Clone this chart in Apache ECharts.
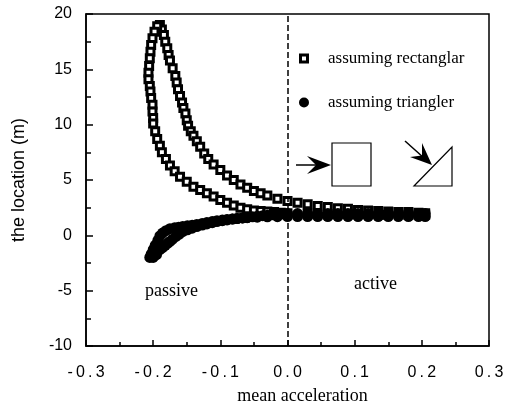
<!DOCTYPE html>
<html>
<head>
<meta charset="utf-8">
<script src="https://cdn.jsdelivr.net/npm/echarts@6/dist/echarts.min.js"></script>
<style>
  html, body { margin: 0; padding: 0; background: #fff; }
</style>
</head>
<body>
<div id="main" style="width: 505px; height: 405px;"></div>
<script>
// rectangular assumption: branch from the peak down the right side
const rectUpper = [
  [-0.190, 19.0], [-0.187, 18.6], [-0.184, 18.1], [-0.182, 17.5], [-0.179, 16.9], [-0.177, 16.3],
  [-0.175, 15.8], [-0.171, 15.1], [-0.167, 14.4], [-0.165, 13.8], [-0.163, 13.2], [-0.160, 12.6],
  [-0.157, 12.0], [-0.155, 11.5], [-0.152, 11.0], [-0.150, 10.4], [-0.148, 9.9], [-0.144, 9.4],
  [-0.140, 9.0], [-0.135, 8.5], [-0.130, 8.0], [-0.124, 7.4], [-0.118, 6.9], [-0.110, 6.4],
  [-0.100, 5.9], [-0.090, 5.4], [-0.080, 5.0], [-0.070, 4.6], [-0.060, 4.3], [-0.050, 4.0],
  [-0.040, 3.8], [-0.030, 3.6], [-0.015, 3.3], [0.000, 3.1], [0.015, 2.95], [0.030, 2.8],
  [0.045, 2.65], [0.060, 2.55], [0.075, 2.45], [0.090, 2.4], [0.105, 2.3], [0.120, 2.25],
  [0.135, 2.2], [0.150, 2.15], [0.165, 2.1], [0.180, 2.1], [0.195, 2.05], [0.205, 2.0]
];
// rectangular assumption: branch from the peak down the left side
const rectLower = [
  [-0.194, 18.9], [-0.198, 18.4], [-0.201, 17.8], [-0.203, 17.2], [-0.204, 16.6], [-0.205, 16.0],
  [-0.206, 15.3], [-0.207, 14.7], [-0.207, 14.1], [-0.205, 13.5], [-0.204, 13.0], [-0.203, 12.4],
  [-0.201, 11.8], [-0.201, 11.2], [-0.200, 10.6], [-0.200, 10.1], [-0.197, 9.4], [-0.194, 8.7],
  [-0.190, 8.1], [-0.187, 7.5], [-0.181, 6.9], [-0.175, 6.3], [-0.168, 5.8], [-0.160, 5.3],
  [-0.150, 4.85], [-0.140, 4.4], [-0.130, 4.1], [-0.120, 3.8], [-0.110, 3.5], [-0.100, 3.2],
  [-0.090, 2.95], [-0.080, 2.7], [-0.070, 2.5], [-0.060, 2.35], [-0.050, 2.25], [-0.040, 2.2],
  [-0.030, 2.15], [-0.020, 2.1], [-0.010, 2.05], [0.000, 2.0], [0.030, 1.95], [0.060, 1.9],
  [0.100, 1.9], [0.140, 1.85], [0.180, 1.85], [0.205, 1.85]
];
// triangular assumption: upper edge of the loop
const triUpper = [
  [-0.203, -1.7], [-0.200, -1.3], [-0.197, -0.9], [-0.193, -0.45], [-0.190, -0.05], [-0.186, 0.2],
  [-0.181, 0.42], [-0.175, 0.6], [-0.168, 0.68], [-0.162, 0.74], [-0.156, 0.8], [-0.149, 0.86],
  [-0.142, 0.92], [-0.135, 0.98], [-0.127, 1.07], [-0.120, 1.15], [-0.112, 1.24], [-0.105, 1.32],
  [-0.097, 1.38], [-0.090, 1.43], [-0.082, 1.48], [-0.075, 1.52], [-0.067, 1.57], [-0.060, 1.61],
  [-0.052, 1.67], [-0.045, 1.72], [-0.037, 1.78], [-0.030, 1.82], [-0.022, 1.87], [-0.015, 1.9],
  [-0.007, 1.94], [0.000, 1.97], [0.015, 1.97], [0.030, 1.97], [0.045, 1.97], [0.060, 1.97],
  [0.075, 1.97], [0.090, 1.97], [0.105, 1.97], [0.120, 1.97], [0.135, 1.97], [0.150, 1.97],
  [0.165, 1.97], [0.180, 1.97], [0.195, 1.97], [0.205, 1.97]
];
// triangular assumption: lower edge of the loop
const triLower = [
  [-0.205, -2.0], [-0.200, -2.0], [-0.195, -1.75], [-0.190, -1.3], [-0.186, -1.1], [-0.182, -0.9],
  [-0.178, -0.7], [-0.175, -0.55], [-0.171, -0.35], [-0.166, -0.1], [-0.161, 0.12], [-0.156, 0.34],
  [-0.149, 0.5], [-0.142, 0.65], [-0.135, 0.79], [-0.127, 0.93], [-0.120, 1.03], [-0.112, 1.14],
  [-0.105, 1.24], [-0.097, 1.32], [-0.090, 1.39], [-0.082, 1.47], [-0.075, 1.52], [-0.067, 1.57],
  [-0.060, 1.6], [-0.045, 1.64], [-0.030, 1.67], [-0.015, 1.69], [0.000, 1.7], [0.015, 1.7],
  [0.030, 1.7], [0.045, 1.7], [0.060, 1.7], [0.075, 1.7], [0.090, 1.7], [0.105, 1.7],
  [0.120, 1.7], [0.135, 1.7], [0.150, 1.7], [0.165, 1.7], [0.180, 1.7], [0.195, 1.7],
  [0.205, 1.7]
];

const seriesNames = ['assuming rectanglar', 'assuming triangler'];
const regionLabels = ['passive', 'active'];

const sans = '"Liberation Sans", Arial, sans-serif';
const serif = '"Liberation Serif", "Times New Roman", serif';

// spread x tick label characters a bit, like the scanned figure
const spaced = v => String(v).split('').join('\u2009');

const chart = echarts.init(document.getElementById('main'));

chart.setOption({
  animation: false,
  backgroundColor: '#fff',
  grid: {
    left: 86, right: 16, top: 14, bottom: 59,
    outerBoundsMode: 'none',
    show: true, borderColor: '#000', borderWidth: 1.5, backgroundColor: 'transparent'
  },
  legend: {
    orient: 'vertical',
    left: 299, top: 50,
    itemWidth: 10, itemHeight: 10, itemGap: 27,
    padding: 0,
    textStyle: { fontFamily: serif, fontSize: 17, color: '#000', padding: [0, 0, 0, 14] },
    data: [
      { name: seriesNames[0], icon: 'path://M0,0H10V10H0Z M3,3V7H7V3Z', itemStyle: { color: '#000', borderWidth: 0 } },
      { name: seriesNames[1], icon: 'circle', itemStyle: { color: '#000', borderWidth: 0 } }
    ]
  },
  xAxis: {
    type: 'value',
    min: -0.3, max: 0.3, interval: 0.1,
    name: 'mean acceleration',
    nameLocation: 'middle',
    nameGap: 41,
    nameMoveOverlap: false,
    nameTextStyle: { fontFamily: serif, fontSize: 18, color: '#000', padding: [0, 0, 0, 30] },
    axisLine: { show: true, onZero: false, lineStyle: { color: '#000', width: 1.5 } },
    axisTick: { show: true, inside: true, length: 6, lineStyle: { color: '#000', width: 1.5 } },
    minorTick: { show: true, splitNumber: 2, length: 4, lineStyle: { color: '#000', width: 1.5 } },
    splitLine: { show: false },
    axisLabel: {
      margin: 19, fontFamily: sans, fontSize: 16, color: '#000',
      formatter: v => spaced(v.toFixed(1))
    }
  },
  yAxis: {
    type: 'value',
    min: -10, max: 20, interval: 5,
    name: 'the location (m)',
    nameLocation: 'middle',
    nameGap: 58,
    nameMoveOverlap: false,
    nameTextStyle: { fontFamily: sans, fontSize: 18, color: '#000' },
    axisLine: { show: true, onZero: false, lineStyle: { color: '#000', width: 1.5 } },
    axisTick: { show: true, inside: true, length: 7, lineStyle: { color: '#000', width: 1.5 } },
    minorTick: { show: true, splitNumber: 2, length: 5, lineStyle: { color: '#000', width: 1.5 } },
    splitLine: { show: false },
    axisLabel: { margin: 14, fontFamily: sans, fontSize: 16, color: '#000' }
  },
  series: [
    {
      name: seriesNames[0],
      type: 'scatter',
      symbol: 'rect',
      symbolSize: 7,
      itemStyle: { color: '#fff', borderColor: '#000', borderWidth: 3, opacity: 1 },
      data: rectUpper.concat(rectLower),
      z: 2
    },
    {
      name: seriesNames[1],
      type: 'scatter',
      symbol: 'circle',
      symbolSize: 11,
      itemStyle: { color: '#000', opacity: 1 },
      data: triUpper.concat(triLower),
      z: 3,
      markLine: {
        silent: true,
        symbol: 'none',
        label: { show: false },
        lineStyle: { color: '#000', width: 1.5, type: [6, 3] },
        data: [{ xAxis: 0 }]
      }
    }
  ],
  graphic: [
    { type: 'text', left: 145, top: 282, style: { text: regionLabels[0], font: '18px ' + serif, fill: '#000' } },
    { type: 'text', left: 354, top: 275, style: { text: regionLabels[1], font: '18px ' + serif, fill: '#000' } },
    // block sketches
    { type: 'rect', shape: { x: 332, y: 143, width: 39, height: 43 }, style: { fill: 'none', stroke: '#000', lineWidth: 1.2 } },
    { type: 'line', shape: { x1: 296, y1: 165, x2: 320, y2: 165 }, style: { stroke: '#000', lineWidth: 1.5 } },
    { type: 'polygon', shape: { points: [[331, 165], [307, 156], [316, 165], [307, 174]] }, style: { fill: '#000' } },
    { type: 'polygon', shape: { points: [[414, 186], [452, 186], [452, 147]] }, style: { fill: 'none', stroke: '#000', lineWidth: 1.2 } },
    { type: 'line', shape: { x1: 405, y1: 141, x2: 424, y2: 158 }, style: { stroke: '#000', lineWidth: 1.5 } },
    { type: 'polygon', shape: { points: [[432, 165], [410, 157], [422, 155.5], [422, 143]] }, style: { fill: '#000' } }
  ]
});
</script>
</body>
</html>
